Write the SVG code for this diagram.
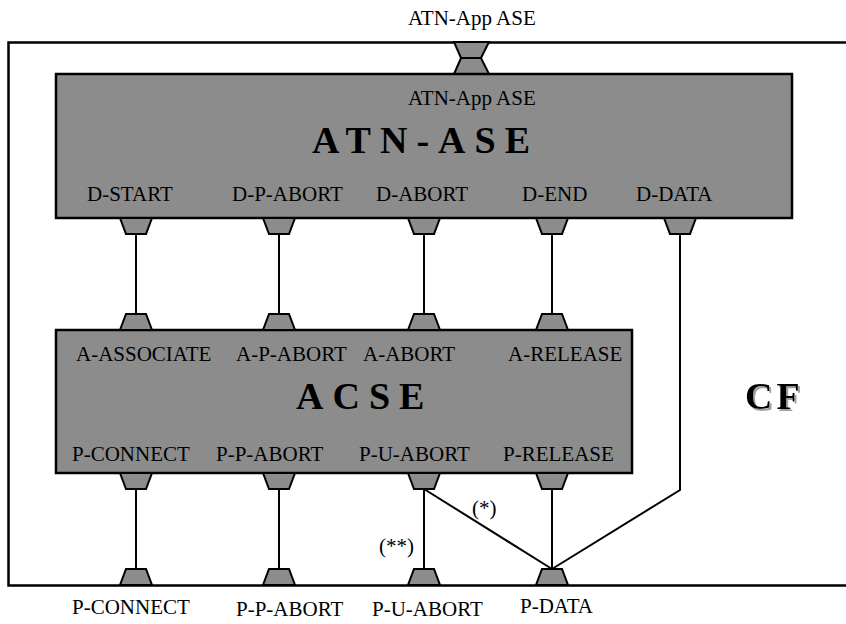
<svg xmlns="http://www.w3.org/2000/svg" width="846" height="624" viewBox="0 0 846 624">
<style>
.box{fill:#8c8c8c;stroke:#000;stroke-width:2.5}
.port{fill:#8c8c8c;stroke:#000;stroke-width:2;stroke-linejoin:miter}
.ln{fill:none;stroke:#000;stroke-width:2}
.lbl{font-family:"Liberation Serif","Times New Roman",serif;font-size:21px;fill:#000}
.big{font-family:"Liberation Serif","Times New Roman",serif;font-size:38px;font-weight:bold;fill:#000;letter-spacing:9px}
</style>
<defs>
<path id="pd" d="M-16,0 L16,0 L10,16 L-10,16 Z" class="port"/>
<path id="pu" d="M-10,0 L10,0 L16,16 L-16,16 Z" class="port"/>
<filter id="shadow" x="-10%" y="-10%" width="130%" height="130%">
<feOffset in="SourceAlpha" dx="2" dy="2" result="off"/>
<feFlood flood-color="#a0a0a0"/>
<feComposite in2="off" operator="in" result="sh"/>
<feMerge><feMergeNode in="sh"/><feMergeNode in="SourceGraphic"/></feMerge>
</filter>
</defs>
<rect x="0" y="0" width="846" height="624" fill="#fff"/>
<g id="cf">
<path d="M850,42.5 L8.5,42.5 L8.5,585.5 L850,585.5" fill="none" stroke="#000" stroke-width="2.5"/>
<text x="745" y="409" class="big" style="letter-spacing:4px" filter="url(#shadow)">CF</text>
<text x="408" y="25" class="lbl">ATN-App ASE</text>
<path d="M454,42 L489,42 L481,58 L461,58 Z" class="port"/>
<path d="M461,58 L481,58 L489,74 L454,74 Z" class="port"/>
<use href="#pu" x="136" y="569"/>
<use href="#pu" x="279" y="569"/>
<use href="#pu" x="424" y="569"/>
<use href="#pu" x="552" y="569"/>
<text x="72" y="614" class="lbl">P-CONNECT</text>
<text x="236" y="616" class="lbl">P-P-ABORT</text>
<text x="372" y="616" class="lbl">P-U-ABORT</text>
<text x="520" y="613" class="lbl">P-DATA</text>
</g>
<g id="connectors">
<path class="ln" d="M136,233 V313 M279,233 V313 M424,233 V313 M552,233 V313"/>
<path class="ln" d="M680,233 V490 L552,569"/>
<path class="ln" d="M136,489 V569 M279,489 V569 M424,489 V569 M552,489 V569 M424,489 L552,569"/>
<text x="472" y="515" class="lbl">(*)</text>
<text x="379" y="553" class="lbl">(**)</text>
</g>
<g id="atn-ase">
<rect x="56" y="74" width="736" height="144" class="box"/>
<text x="408" y="105" class="lbl">ATN-App ASE</text>
<text x="312" y="153" class="big">ATN-ASE</text>
<text x="87" y="201" class="lbl">D-START</text>
<text x="232" y="201" class="lbl">D-P-ABORT</text>
<text x="376" y="201" class="lbl">D-ABORT</text>
<text x="522" y="201" class="lbl">D-END</text>
<text x="636" y="201" class="lbl">D-DATA</text>
<use href="#pd" x="136" y="218"/>
<use href="#pd" x="279" y="218"/>
<use href="#pd" x="424" y="218"/>
<use href="#pd" x="552" y="218"/>
<use href="#pd" x="680" y="218"/>
</g>
<g id="acse">
<rect x="56" y="330" width="576" height="143" class="box"/>
<use href="#pu" x="136" y="314"/>
<use href="#pu" x="279" y="314"/>
<use href="#pu" x="424" y="314"/>
<use href="#pu" x="552" y="314"/>
<text x="76" y="361" class="lbl">A-ASSOCIATE</text>
<text x="236" y="361" class="lbl">A-P-ABORT</text>
<text x="363" y="361" class="lbl">A-ABORT</text>
<text x="508" y="361" class="lbl">A-RELEASE</text>
<text x="296" y="409" class="big">ACSE</text>
<text x="72" y="461" class="lbl">P-CONNECT</text>
<text x="216" y="461" class="lbl">P-P-ABORT</text>
<text x="359" y="461" class="lbl">P-U-ABORT</text>
<text x="503" y="461" class="lbl">P-RELEASE</text>
<use href="#pd" x="136" y="473"/>
<use href="#pd" x="279" y="473"/>
<use href="#pd" x="424" y="473"/>
<use href="#pd" x="552" y="473"/>
</g>
</svg>
